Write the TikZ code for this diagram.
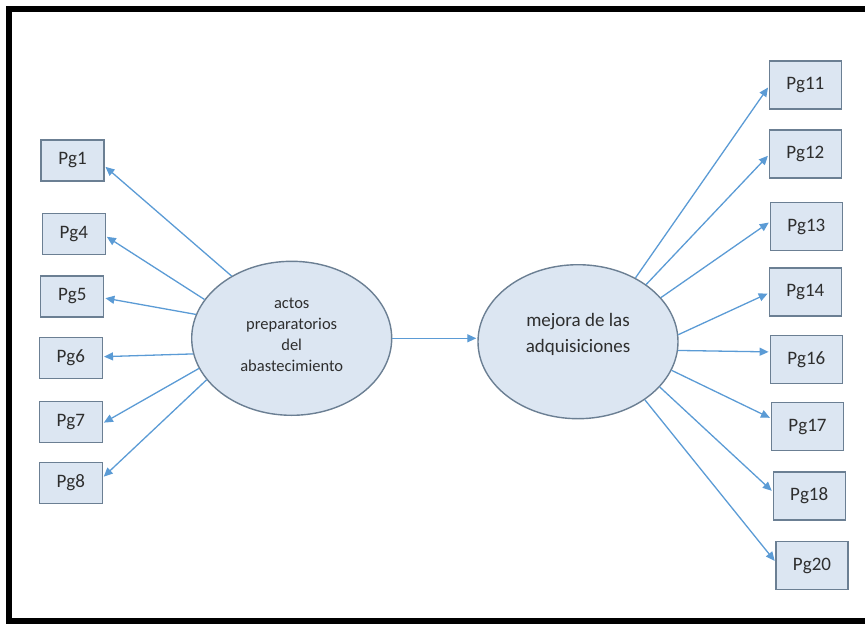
\documentclass[tikz,border=0pt]{standalone}
\usepackage{fontspec}
\setmainfont{Carlito}
\usetikzlibrary{arrows.meta,shapes.geometric}
\definecolor{boxfill}{HTML}{DCE6F2}
\definecolor{boxline}{HTML}{6B7F93}
\definecolor{arrowc}{HTML}{5B9BD5}
\definecolor{txt}{HTML}{2E2E2E}
\begin{document}
\begin{tikzpicture}[x=1pt,y=-1pt,
  item/.style={draw=boxline,fill=boxfill,line width=1.4pt,minimum width=63pt,minimum height=41pt,inner sep=0pt,font=\fontsize{19}{22}\selectfont,text=txt},
  ritem/.style={item,minimum width=72pt,minimum height=48pt},
  latent/.style={ellipse,draw=boxline,fill=boxfill,line width=1.4pt,minimum width=200pt,minimum height=154pt,inner sep=0pt},
  ltext/.style={align=center,text=txt,inner sep=0pt},
  link/.style={draw=arrowc,line width=1.3pt,-{Triangle[length=9pt,width=8pt]},shorten >=1pt}]
\useasboundingbox (0,0) rectangle (865,624);
\draw[line width=6pt,black,line cap=butt,line join=miter] (866,9) -- (8.5,9) -- (8.5,621) -- (866,621);
% latent variables
\node[latent] (e1) at (291.7,338.3) {};
\node[latent] (e2) at (578,341.7) {};
\node[ltext,font=\fontsize{16.5}{21}\selectfont] (e1t) at (291.7,334.7) {actos\\preparatorios\\del\\abastecimiento};
\node[ltext,font=\fontsize{19}{25.5}\selectfont] (e2t) at (578,334.5) {mejora de las\\adquisiciones};
% left indicators
\node[item] (pg1) at (72.5,160.5) {Pg1};
\node[item] (pg4) at (73.8,234) {Pg4};
\node[item] (pg5) at (72.2,296.3) {Pg5};
\node[item] (pg6) at (70.8,357.8) {Pg6};
\node[item] (pg7) at (70.8,422) {Pg7};
\node[item] (pg8) at (70.8,483) {Pg8};
% right indicators
\node[ritem] (pg11) at (805.3,84.8) {Pg11};
\node[ritem] (pg12) at (805.3,153.8) {Pg12};
\node[ritem] (pg13) at (806.3,226.5) {Pg13};
\node[ritem] (pg14) at (805.3,291.8) {Pg14};
\node[ritem] (pg16) at (806.3,359.7) {Pg16};
\node[ritem] (pg17) at (807.5,426.7) {Pg17};
\node[ritem] (pg18) at (809.2,496) {Pg18};
\node[ritem] (pg20) at (812,565.5) {Pg20};
% left arrows
\draw[link] (e1.134) -- (pg1.-10);
\draw[link] (e1.156) -- (pg4.-4);
\draw[link] (e1.166.5) -- (pg5.-3);
\draw[link] (e1.189) -- (pg6.2);
\draw[link] (e1.198.5) -- (pg7.-2);
\draw[link] (e1.206.6) -- (pg8.10);
% middle arrow
\draw[link] (e1.east) -- (e1.east -| e2.west);
% right arrows
\draw[link] (e2.48.7) -- (pg11.183);
\draw[link] (e2.40.4) -- (pg12.182);
\draw[link] (e2.28) -- (pg13.173);
\draw[link] (e2.4.8) -- (pg14.182);
\draw[link] (e2.-5.7) -- (pg16.168);
\draw[link] (e2.-17.5) -- (pg17.167);
\draw[link] (e2.-29) -- (pg18.173);
\draw[link] (e2.-41.8) -- (pg20.174);
\end{tikzpicture}
\end{document}
